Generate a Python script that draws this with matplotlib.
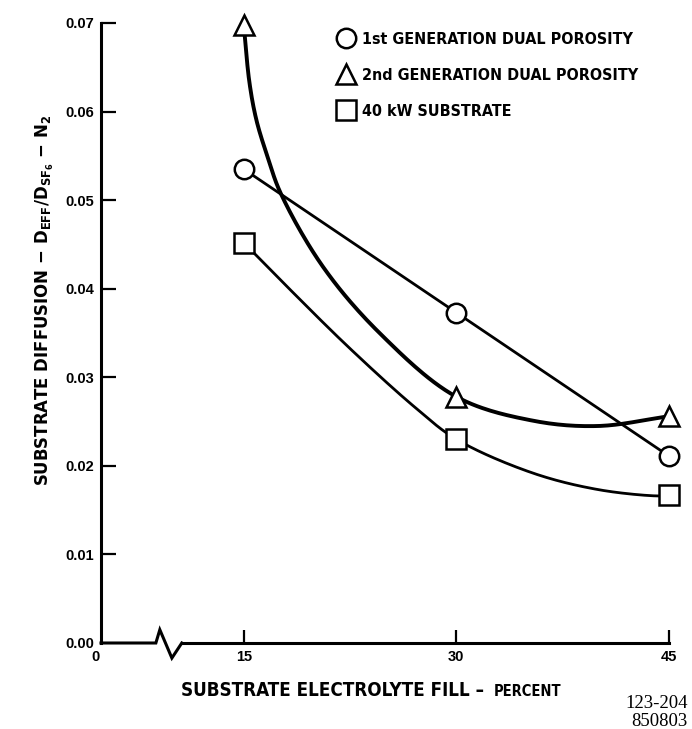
import numpy as np
import matplotlib
matplotlib.use("Agg")
import matplotlib.pyplot as plt
import matplotlib.font_manager as fm
import matplotlib.transforms as mtransforms
from matplotlib.lines import Line2D

plt.rcParams['mathtext.default'] = 'regular'

# pick a condensed bold face if one is installed
names = {(f.name, str(f.stretch)) for f in fm.fontManager.ttflist}
if any(n == 'Liberation Sans Narrow' for n, s in names):
    NARROW = dict(family=['Liberation Sans Narrow', 'DejaVu Sans'], stretch='normal')
elif any(n == 'DejaVu Sans' and s in ('condensed', '500', 'semi-condensed') for n, s in names):
    NARROW = dict(family=['DejaVu Sans'], stretch='condensed')
elif any(n == 'Roboto Condensed' for n, s in names):
    NARROW = dict(family=['Roboto Condensed', 'DejaVu Sans'], stretch='normal')
else:
    NARROW = dict(family=['Roboto', 'DejaVu Sans'], stretch='normal')
WIDE = ['Liberation Sans', 'DejaVu Sans']
SERIF = ['Liberation Serif', 'DejaVu Serif']

# values
fill_pct = [15, 30, 45]
gen1_vals = [0.0535, 0.0373, 0.0211]
gen2_vals = [0.0698, 0.0278, 0.0256]
kw40_vals = [0.0452, 0.0230, 0.0167]

# points
gen1_curve_x = [15, 30, 45]
gen1_curve_y = [0.0535, 0.0373, 0.0211]
gen2_curve_x = [15, 15.4, 15.9, 16.7, 17.6, 20.58, 24.58, 30, 35.4, 40.0, 45]
gen2_curve_y = [0.0698, 0.0633, 0.0590, 0.0548, 0.0508, 0.0425, 0.0350, 0.0278, 0.0251, 0.0245, 0.0256]
kw40_curve_x = [15, 17.77, 22.46, 27.16, 30, 35.37, 40.07, 44.3, 45]
kw40_curve_y = [0.0452, 0.0407, 0.0333, 0.0265, 0.0230, 0.0192, 0.0173, 0.0166, 0.0167]

labels = ['1st GENERATION DUAL POROSITY', '2nd GENERATION DUAL POROSITY', '40 kW SUBSTRATE']
x_tick_labels = ['0', '15', '30', '45']
y_ticks = [0.0, 0.01, 0.02, 0.03, 0.04, 0.05, 0.06, 0.07]

X_ZERO = 4.93      # where "0" sits on the broken axis
BREAK = (8.8, 10.63)
SX, SY = 14.2, 8857.0   # rough px per unit, only to smooth in screen space


def smooth(xs, ys, n=30):
    # centripetal catmull-rom through the read points
    P = np.column_stack([np.asarray(xs) * SX, np.asarray(ys) * SY])
    P = np.vstack([2 * P[0] - P[1], P, 2 * P[-1] - P[-2]])
    out = []
    for i in range(1, len(P) - 2):
        p0, p1, p2, p3 = P[i - 1:i + 3]
        t0 = 0.0
        t1 = t0 + np.linalg.norm(p1 - p0) ** 0.5
        t2 = t1 + np.linalg.norm(p2 - p1) ** 0.5
        t3 = t2 + np.linalg.norm(p3 - p2) ** 0.5
        t = np.linspace(t1, t2, n)[:, None]
        a1 = (t1 - t) / (t1 - t0) * p0 + (t - t0) / (t1 - t0) * p1
        a2 = (t2 - t) / (t2 - t1) * p1 + (t - t1) / (t2 - t1) * p2
        a3 = (t3 - t) / (t3 - t2) * p2 + (t - t2) / (t3 - t2) * p3
        b1 = (t2 - t) / (t2 - t0) * a1 + (t - t0) / (t2 - t0) * a2
        b2 = (t3 - t) / (t3 - t1) * a2 + (t - t1) / (t3 - t1) * a3
        c = (t2 - t) / (t2 - t1) * b1 + (t - t1) / (t2 - t1) * b2
        out.append(c if i == 1 else c[1:])
    c = np.vstack(out)
    return c[:, 0] / SX, c[:, 1] / SY


fig = plt.figure(figsize=(6.92, 7.29), dpi=100)
ax = fig.add_axes([101 / 692, 86 / 729, 568 / 692, 620 / 729])
ax.set_xlim(X_ZERO, 45)
ax.set_ylim(0, 0.07)

for cx, cy, lw in [(gen1_curve_x, gen1_curve_y, 2.0),
                   (gen2_curve_x, gen2_curve_y, 2.8),
                   (kw40_curve_x, kw40_curve_y, 2.0)]:
    sx, sy = smooth(cx, cy)
    ax.plot(sx, sy, color='black', lw=lw, solid_capstyle='round', clip_on=False, zorder=2)

mk = dict(color='black', markerfacecolor='white', markeredgewidth=1.8, linestyle='none', clip_on=False, zorder=3)
ax.plot(fill_pct, gen1_vals, marker='o', markersize=14, **mk)
ax.plot(fill_pct, gen2_vals, marker='^', markersize=15, **mk)
ax.plot(fill_pct, kw40_vals, marker='s', markersize=14, **mk)

# x axis line with the break symbol
ax.spines['bottom'].set_visible(False)
ax.spines['top'].set_visible(False)
ax.spines['right'].set_visible(False)
ax.spines['left'].set_linewidth(2.2)
ax.spines['left'].set_bounds(0, 0.07)
zx = [X_ZERO, BREAK[0], BREAK[0] + 0.28, BREAK[0] + 1.13, BREAK[1]]
zy = [0, 0, 0.0015, -0.0017, 0]
ax.plot(zx, zy, color='black', lw=2.2, clip_on=False, solid_joinstyle='miter')
ax.plot([BREAK[1], 45], [0, 0], color='black', lw=2.2, clip_on=False)

ax.set_xticks([X_ZERO, 15, 30, 45])
ax.set_xticklabels(x_tick_labels, fontfamily=WIDE, fontweight='bold', fontsize=10.5)
ax.set_yticks(y_ticks)
ax.set_yticklabels(['%.2f' % v for v in y_ticks], fontfamily=WIDE, fontweight='bold', fontsize=10.5)
ax.tick_params(axis='x', direction='in', length=9.5, width=1.6, pad=5)
ax.tick_params(axis='y', direction='in', length=11, width=1.6, pad=5)
ax.xaxis.get_major_ticks()[0].tick1line.set_visible(False)
ax.yaxis.get_major_ticks()[0].tick1line.set_visible(False)
zero_lbl = ax.xaxis.get_major_ticks()[0].label1
zero_lbl.set_transform(zero_lbl.get_transform() + mtransforms.ScaledTranslation(-6 / 100, 0, fig.dpi_scale_trans))

handles = [Line2D([], [], marker=m, markersize=s, color='black', markerfacecolor='white',
                  markeredgewidth=1.8, linestyle='none') for m, s in [('o', 14), ('^', 15), ('s', 14)]]
ax.legend(handles, labels, loc='upper left', bbox_to_anchor=(330 / 692, 1 - 24 / 729),
          bbox_transform=fig.transFigure, frameon=False, handlelength=1.0, handletextpad=0.5,
          labelspacing=1.3, borderpad=0,
          prop=fm.FontProperties(family=NARROW['family'], stretch=NARROW['stretch'], weight='bold', size=11.5))

t1 = fig.text(181 / 692, 1 - 690 / 729, 'SUBSTRATE ELECTROLYTE FILL \u2013 ', fontfamily=NARROW['family'],
              fontstretch=NARROW['stretch'], fontweight='bold', fontsize=13.5, ha='left', va='center')
fig.canvas.draw()
bb = t1.get_window_extent()
fig.text(bb.x1 / 692 + 4 / 692, 1 - 691 / 729, 'PERCENT', fontfamily=NARROW['family'],
         fontstretch=NARROW['stretch'], fontweight='bold', fontsize=10.5, ha='left', va='center')
fig.text(45 / 692, 1 - 300 / 729,
         r'SUBSTRATE DIFFUSION $-$ D$_{EFF}$/D$_{SF_{6}}$ $-$ N$_2$',
         fontfamily=NARROW['family'], fontstretch=NARROW['stretch'], fontweight='bold',
         fontsize=13.2, rotation=90, ha='center', va='center')
fig.text(688 / 692, 1 - 703 / 729, '123-204', fontfamily=SERIF, fontsize=13.5, ha='right', va='center')
fig.text(688 / 692, 1 - 722 / 729, '850803', fontfamily=SERIF, fontsize=13.5, ha='right', va='center')

fig.savefig('out.png', dpi=100)
